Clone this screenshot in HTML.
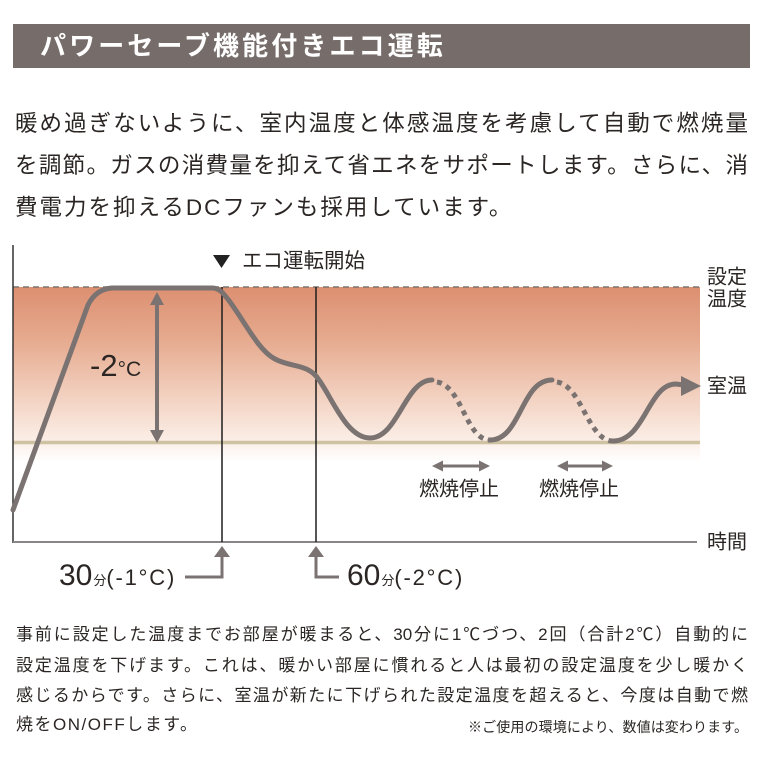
<!DOCTYPE html>
<html><head><meta charset="utf-8">
<style>
html,body{margin:0;padding:0;background:#fff;}
body{width:765px;height:765px;position:relative;overflow:hidden;font-family:"Liberation Sans","Noto Sans CJK JP",sans-serif;color:#2b2624;}
.bar{position:absolute;left:13px;top:24px;width:737px;height:44px;background:#766d6a;}
.title{position:absolute;left:40px;top:24px;height:44px;line-height:44px;font-size:26px;font-weight:bold;color:#fff;letter-spacing:3.1px;white-space:nowrap;}
.p{position:absolute;left:15px;width:733px;font-size:22.5px;line-height:41px;height:41px;}
.b{position:absolute;left:16px;width:732px;font-size:17px;line-height:30px;height:30px;}
.j{text-align:justify;text-align-last:justify;}
.note{position:absolute;left:468px;width:280px;top:717px;font-size:14px;line-height:20px;text-align:justify;text-align-last:justify;}
svg{position:absolute;left:0;top:0;}
</style>
</head>
<body>
<div class="bar"></div>
<div class="title">パワーセーブ機能付きエコ運転</div>

<div class="p j" style="top:103px;">暖め過ぎないように、室内温度と体感温度を考慮して自動で燃焼量</div>
<div class="p j" style="top:145px;">を調節。ガスの消費量を抑えて省エネをサポートします。さらに、消</div>
<div class="p" style="top:186.5px;letter-spacing:2px;white-space:nowrap;">費電力を抑えるDCファンも採用しています。</div>

<svg width="765" height="765" xmlns="http://www.w3.org/2000/svg">
<defs>
<linearGradient id="g" x1="0" y1="0" x2="0" y2="1">
<stop offset="0" stop-color="#dc8f70"/>
<stop offset="0.35" stop-color="#e6ab90"/>
<stop offset="0.7" stop-color="#f2d0bf"/>
<stop offset="1" stop-color="#fbefe8"/>
</linearGradient>
<linearGradient id="g2" x1="0" y1="0" x2="0" y2="1">
<stop offset="0" stop-color="#fbefe8"/>
<stop offset="1" stop-color="#ffffff"/>
</linearGradient>
</defs>
<rect x="13" y="287" width="687" height="155" fill="url(#g)"/>
<rect x="13" y="442" width="687" height="20" fill="url(#g2)"/>
<line x1="13" y1="287" x2="700" y2="287" stroke="#7d7471" stroke-width="1.5" stroke-dasharray="6 4"/>
<line x1="13" y1="442.5" x2="700" y2="442.5" stroke="#cfc2a3" stroke-width="3.5"/>
<line x1="13" y1="245" x2="13" y2="543" stroke="#333" stroke-width="1.5"/>
<line x1="13" y1="542" x2="697" y2="542" stroke="#8a8685" stroke-width="2"/>
<line x1="222" y1="287" x2="222" y2="542" stroke="#1e1e1e" stroke-width="1.5"/>
<line x1="316" y1="287" x2="316" y2="542" stroke="#1e1e1e" stroke-width="1.5"/>

<!-- main curve -->
<g fill="none" stroke="#7b7371" stroke-width="5" stroke-linecap="round" stroke-linejoin="round">
<path d="M13,510 L88,305 Q96,289 112,288 L212,288 C220,288 224,294 230,302 C245,322 258,350 275,359 C290,367 305,364 316,376 C330,392 345,438 370,438 C398,438 405,380 432,380"/>
<path d="M490,440 C521,440 521,380 552,380"/>
<path d="M613,441 C645,441 648,384 676,384 L684,385"/>
</g>
<g fill="none" stroke="#7b7371" stroke-width="5" stroke-dasharray="5 5">
<path d="M437,382 C462,386 466,440 490,440"/>
<path d="M557,382 C582,386 588,441 613,441"/>
</g>
<polygon points="681,376 701,386 681,396" fill="#7b7371"/>

<!-- -2C arrow -->
<line x1="157" y1="303" x2="157" y2="432" stroke="#7b7371" stroke-width="4"/>
<polygon points="150,305 157,292 164,305" fill="#7b7371"/>
<polygon points="150,430 157,443 164,430" fill="#7b7371"/>
<text x="90" y="376" font-family="Liberation Sans" font-size="31" fill="#2b2624">-2<tspan font-size="21">°C</tspan></text>

<!-- burn stop arrows -->
<g stroke="#7b7371" stroke-width="3">
<line x1="440" y1="466" x2="482" y2="466"/>
<line x1="565" y1="466" x2="605" y2="466"/>
</g>
<g fill="#7b7371">
<polygon points="432,466 443,460.5 443,471.5"/>
<polygon points="490,466 479,460.5 479,471.5"/>
<polygon points="557,466 568,460.5 568,471.5"/>
<polygon points="613,466 602,460.5 602,471.5"/>
</g>
<g font-family="Liberation Sans, Noto Sans CJK JP, sans-serif" font-size="20" fill="#2b2624">
<text x="419" y="495.6">燃焼停止</text>
<text x="539" y="495.6">燃焼停止</text>
<text x="707" y="283.6">設定</text>
<text x="707" y="305.6">温度</text>
<text x="707" y="392.6">室温</text>
<text x="707" y="548.6">時間</text>
<text x="242" y="267.6" font-size="20.5">エコ運転開始</text>
</g>
<polygon points="213,255 230,255 221.5,268" fill="#222"/>

<!-- bottom arrows -->
<g fill="none" stroke="#7b7371" stroke-width="3">
<polyline points="185,577 222,577 222,556"/>
<polyline points="316,556 316,577 339,577"/>
</g>
<polygon points="214,557 222,546 230,557" fill="#7b7371"/>
<polygon points="308,557 316,546 324,557" fill="#7b7371"/>
<text x="59" y="585" font-family="Liberation Sans" font-size="30" fill="#2b2624">30<tspan font-size="13" font-family="Noto Sans CJK JP" dx="1">分</tspan><tspan font-size="22" letter-spacing="1.8">(-1°C)</tspan></text>
<text x="347" y="585" font-family="Liberation Sans" font-size="30" fill="#2b2624">60<tspan font-size="13" font-family="Noto Sans CJK JP" dx="1">分</tspan><tspan font-size="22" letter-spacing="1.8">(-2°C)</tspan></text>
</svg>

<div class="b j" style="top:620px;">事前に設定した温度までお部屋が暖まると、30分に1℃づつ、2回（合計2℃）自動的に</div>
<div class="b j" style="top:650.5px;">設定温度を下げます。これは、暖かい部屋に慣れると人は最初の設定温度を少し暖かく</div>
<div class="b j" style="top:680.5px;">感じるからです。さらに、室温が新たに下げられた設定温度を超えると、今度は自動で燃</div>
<div class="b" style="top:710px;letter-spacing:1.5px;white-space:nowrap;">焼をON/OFFします。</div>
<div class="note">※ご使用の環境により、数値は変わります。</div>
</body></html>
